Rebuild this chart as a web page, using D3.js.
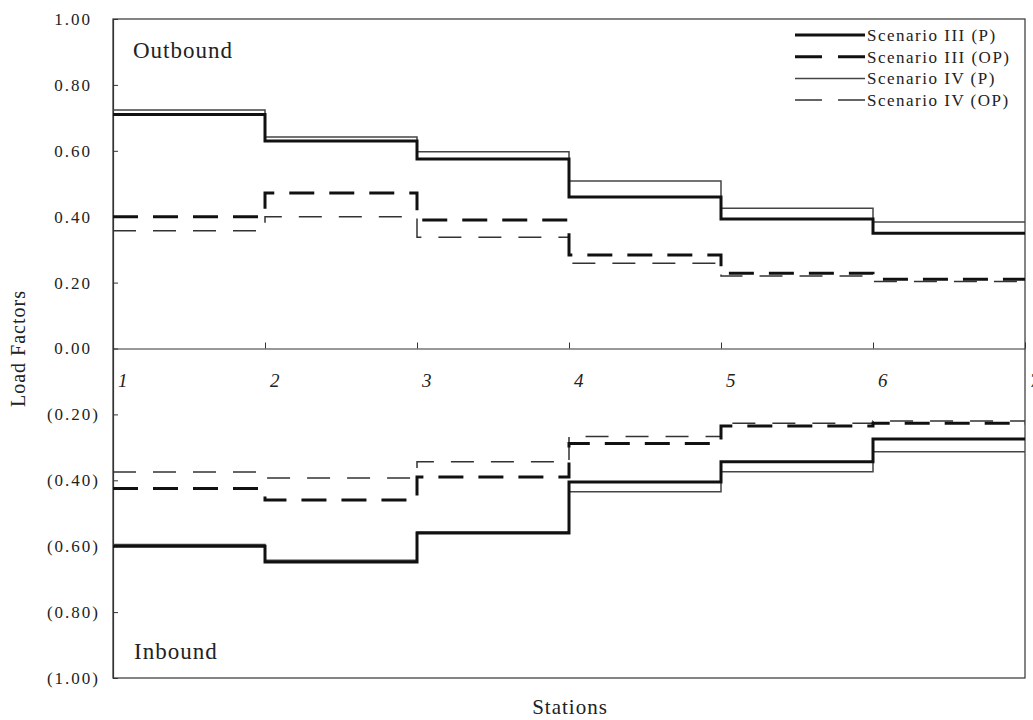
<!DOCTYPE html>
<html>
<head>
<meta charset="utf-8">
<script src="https://cdn.jsdelivr.net/npm/d3@7"></script>
<style>
  body { margin: 0; background: #fff; }
  svg { display: block; font-family: "Liberation Serif", "Times New Roman", serif; }
</style>
</head>
<body>
<svg id="chart" width="1033" height="720"></svg>
<script>
// stations along the line
const stations = [1, 2, 3, 4, 5, 6, 7];

// load factor per segment (station i -> i+1), outbound positive
const s3P_out  = [0.710, 0.630, 0.575, 0.460, 0.393, 0.350];
const s3OP_out = [0.400, 0.472, 0.390, 0.284, 0.228, 0.210];
const s4P_out  = [0.724, 0.642, 0.597, 0.508, 0.426, 0.384];
const s4OP_out = [0.357, 0.400, 0.338, 0.259, 0.220, 0.203];

// inbound shown as negative values
const s3P_in  = [-0.600, -0.648, -0.560, -0.405, -0.344, -0.275];
const s3OP_in = [-0.425, -0.460, -0.390, -0.288, -0.235, -0.227];
const s4P_in  = [-0.595, -0.643, -0.557, -0.435, -0.374, -0.313];
const s4OP_in = [-0.375, -0.393, -0.344, -0.267, -0.227, -0.220];

const yTicks = [1, 0.8, 0.6, 0.4, 0.2, 0, -0.2, -0.4, -0.6, -0.8, -1];
const legendNames = ["Scenario III (P)", "Scenario III (OP)", "Scenario IV (P)", "Scenario IV (OP)"];

// line styles
const styles = [
  { w: 3,   c: "#111", dash: null },
  { w: 3,   c: "#111", dash: "25,15" },
  { w: 1.5, c: "#444", dash: null },
  { w: 1.5, c: "#333", dash: "23,17" }
];

const svg = d3.select("#chart");
const margin = { left: 113, right: 1025, top: 19, bottom: 678 };

const x = d3.scaleLinear().domain([1, 7]).range([margin.left, margin.right]);
const y = d3.scaleLinear().domain([-1, 1]).range([margin.bottom, margin.top]);

// frame
svg.append("rect")
  .attr("x", margin.left).attr("y", margin.top)
  .attr("width", margin.right - margin.left)
  .attr("height", margin.bottom - margin.top)
  .attr("fill", "none").attr("stroke", "#333").attr("stroke-width", 1.2);

// y axis
const yAxis = d3.axisLeft(y)
  .tickValues(yTicks)
  .tickSizeInner(-5)
  .tickSizeOuter(0)
  .tickPadding(21)
  .tickFormat(d => d < 0 ? "(" + Math.abs(d).toFixed(2) + ")" : d.toFixed(2));

const gy = svg.append("g")
  .attr("transform", `translate(${margin.left},0)`)
  .call(yAxis);
gy.select(".domain").attr("stroke", "#333").attr("stroke-width", 1.2);
gy.selectAll(".tick line").attr("stroke", "#333");
gy.selectAll(".tick text")
  .attr("x", d => d < 0 ? -13 : -21)
  .attr("fill", "#222")
  .style("font-size", "17px")
  .style("letter-spacing", "2px")
  .style("font-family", "Liberation Serif, serif");

// x axis along zero line
const xAxis = d3.axisBottom(x)
  .tickValues(stations)
  .tickSizeInner(-6)
  .tickSizeOuter(0)
  .tickFormat("");
const gx = svg.append("g")
  .attr("transform", `translate(0,${y(0)})`)
  .call(xAxis);
gx.select(".domain").attr("stroke", "#333").attr("stroke-width", 1.2);
gx.selectAll(".tick line").attr("stroke", "#333");

svg.append("g").selectAll("text")
  .data(stations)
  .enter().append("text")
  .attr("x", d => x(d) + 5)
  .attr("y", y(0) + 38)
  .attr("fill", "#222")
  .style("font-size", "19px")
  .style("font-style", "italic")
  .text(d => d);

// step lines
const line = d3.line()
  .x((d, i) => x(stations[i]))
  .y(d => y(d))
  .curve(d3.curveStepAfter);

function drawSeries(vals, st) {
  const pts = vals.concat([vals[vals.length - 1]]);
  svg.append("path")
    .datum(pts)
    .attr("d", line)
    .attr("fill", "none")
    .attr("stroke", st.c)
    .attr("stroke-width", st.w)
    .attr("stroke-dasharray", st.dash);
}

[s4P_out, s4OP_out, s3P_out, s3OP_out].forEach((s, i) => drawSeries(s, styles[[2, 3, 0, 1][i]]));
[s4P_in, s4OP_in, s3P_in, s3OP_in].forEach((s, i) => drawSeries(s, styles[[2, 3, 0, 1][i]]));

// legend
const legend = svg.append("g");
legendNames.forEach((name, i) => {
  const ly = 35 + i * 21.7;
  legend.append("line")
    .attr("x1", 795).attr("x2", 865)
    .attr("y1", ly).attr("y2", ly)
    .attr("stroke", styles[i].c)
    .attr("stroke-width", styles[i].w)
    .attr("stroke-dasharray", styles[i].dash ? "27,16" : null);
  legend.append("text")
    .attr("x", 867).attr("y", ly + 6)
    .attr("fill", "#222")
    .style("font-size", "17px")
    .style("letter-spacing", "1.5px")
    .text(name);
});

// panel labels
svg.append("text")
  .attr("x", 133).attr("y", 58)
  .attr("fill", "#222")
  .style("font-size", "23px")
  .style("letter-spacing", "1px")
  .text("Outbound");
svg.append("text")
  .attr("x", 134).attr("y", 659)
  .attr("fill", "#222")
  .style("font-size", "23px")
  .style("letter-spacing", "1px")
  .text("Inbound");

// axis titles
svg.append("text")
  .attr("transform", `translate(25,${(margin.top + margin.bottom) / 2}) rotate(-90)`)
  .attr("text-anchor", "middle")
  .attr("fill", "#222")
  .style("font-size", "20px")
  .style("letter-spacing", "1px")
  .text("Load Factors");
svg.append("text")
  .attr("x", 570).attr("y", 714)
  .attr("text-anchor", "middle")
  .attr("fill", "#222")
  .style("font-size", "21px")
  .style("letter-spacing", "1px")
  .text("Stations");
</script>
</body>
</html>
